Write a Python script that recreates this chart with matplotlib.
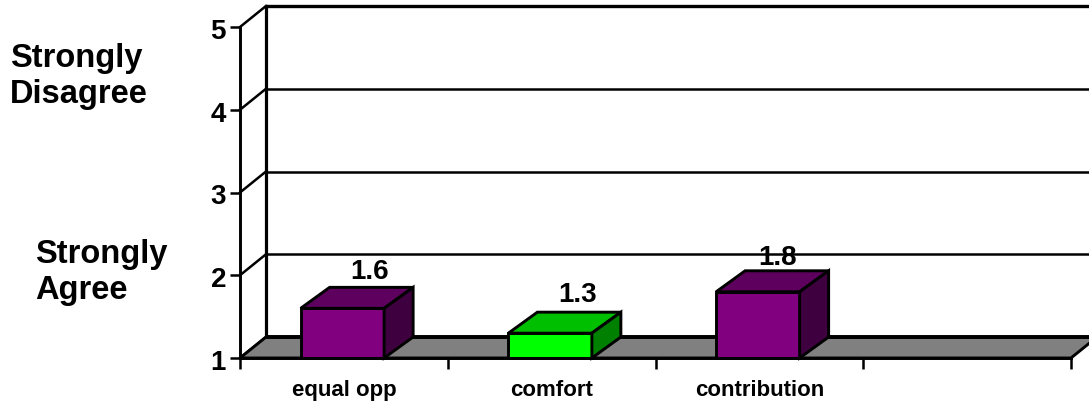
import matplotlib
matplotlib.use("Agg")
import matplotlib.pyplot as plt
from matplotlib.patches import Polygon
from matplotlib.transforms import ScaledTranslation

categories = ["equal opp", "comfort", "contribution", ""]
scores = [1.6, 1.3, 1.8]
front_colors = ["#800080", "#00ff00", "#800080"]
top_colors = ["#5e005e", "#00bf00", "#5e005e"]
side_colors = ["#3f003f", "#008000", "#3f003f"]
y_levels = [1, 2, 3, 4, 5]

W, H = 1089, 404
plt.rcParams["font.family"] = ["Liberation Sans", "DejaVu Sans"]
plt.rcParams["font.weight"] = "bold"

fig = plt.figure(figsize=(W / 100, H / 100), dpi=100, facecolor="white")
# Axes box runs along the front edge of the floor and up the front of the left wall.
L, R, B, T = 240, 1071, 358, 27
ax = fig.add_axes([L / W, 1 - B / H, (R - L) / W, (B - T) / H])
ax.set_xlim(0, len(categories))
ax.set_ylim(1, 5)
ax.patch.set_visible(False)

px_x = len(categories) / (R - L)
px_y = 4 / (B - T)
wall_dx, wall_dy = 26 * px_x, 21 * px_y
bar_dx, bar_dy = 29 * px_x, 21 * px_y
bar_w = 83.5 * px_x
LW = 2.1
xmax = len(categories)

# Floor of the 3D box
ax.add_patch(Polygon([(0, 1), (xmax, 1), (xmax + wall_dx, 1 + wall_dy), (wall_dx, 1 + wall_dy)],
                     closed=True, fc="#808080", ec="black", lw=LW, clip_on=False, zorder=2))
ax.plot([wall_dx, xmax + wall_dx], [1 + wall_dy] * 2, color="black", lw=2.8,
        clip_on=False, zorder=2, solid_capstyle="butt")

# Back wall rules and their diagonals on the side wall
for lv in y_levels[1:]:
    ax.plot([wall_dx, xmax + wall_dx], [lv + wall_dy] * 2, color="black",
            lw=2.4 if lv == 5 else 1.8, clip_on=False, zorder=1, solid_capstyle="butt")
for lv in y_levels:
    ax.plot([0, wall_dx], [lv, lv + wall_dy], color="black", lw=1.8, clip_on=False, zorder=1)
ax.plot([wall_dx, wall_dx], [1 + wall_dy, 5 + wall_dy], color="black", lw=2.3,
        clip_on=False, zorder=1)

# Extruded bars; each value label sits at its own offset from the bar's top corner
label_offsets = [(26, 36), (26, 38), (18, 34)]
for i, v in enumerate(scores):
    x0 = i + 0.5 - bar_w / 2 - 1.5 * px_x
    x1 = x0 + bar_w
    kw = dict(closed=True, ec="black", lw=LW, clip_on=False, joinstyle="miter", zorder=3)
    ax.add_patch(Polygon([(x0, 1), (x1, 1), (x1, v), (x0, v)], fc=front_colors[i], **kw))
    ax.add_patch(Polygon([(x0, v), (x1, v), (x1 + bar_dx, v + bar_dy), (x0 + bar_dx, v + bar_dy)],
                         fc=top_colors[i], **kw))
    ax.add_patch(Polygon([(x1, 1), (x1 + bar_dx, 1 + bar_dy), (x1 + bar_dx, v + bar_dy), (x1, v)],
                         fc=side_colors[i], **kw))
    ox, oy = label_offsets[i]
    ax.text(i + 0.5 + ox * px_x, v + oy * px_y, f"{v:.1f}", ha="center", va="center",
            fontsize=20, fontweight="bold", color="black", zorder=4, clip_on=False)

for s in ("top", "right"):
    ax.spines[s].set_visible(False)
for s in ("left", "bottom"):
    ax.spines[s].set_linewidth(LW)
    ax.spines[s].set_zorder(5)

ax.set_yticks(y_levels)
ax.set_yticklabels([str(v) for v in y_levels], fontsize=20, fontweight="bold")
ax.tick_params(axis="y", length=7, width=1.8, pad=3)
# Numbers on the value axis sit slightly below their tick marks
nudge = ScaledTranslation(0, -2 / 100, fig.dpi_scale_trans)
for lab in ax.get_yticklabels():
    lab.set_transform(lab.get_transform() + nudge)
ax.set_xticks(range(len(categories) + 1))
ax.set_xticklabels([])
ax.tick_params(axis="x", which="major", length=8, width=1.8)
ax.set_xticks([i + 0.5 for i in range(len(categories))], minor=True)
ax.set_xticklabels(categories, minor=True, fontsize=16, fontweight="bold")
ax.tick_params(axis="x", which="minor", length=0, pad=16)

# Scale annotations at the far left
for txt, x, y in [("Strongly", 10, 59), ("Disagree", 10, 95),
                  ("Strongly", 35, 255), ("Agree", 35, 291)]:
    fig.text(x / W, 1 - y / H, txt, ha="left", va="center", fontsize=23.5,
             fontweight="bold", color="black")

fig.savefig("out.png", dpi=100, facecolor="white")
